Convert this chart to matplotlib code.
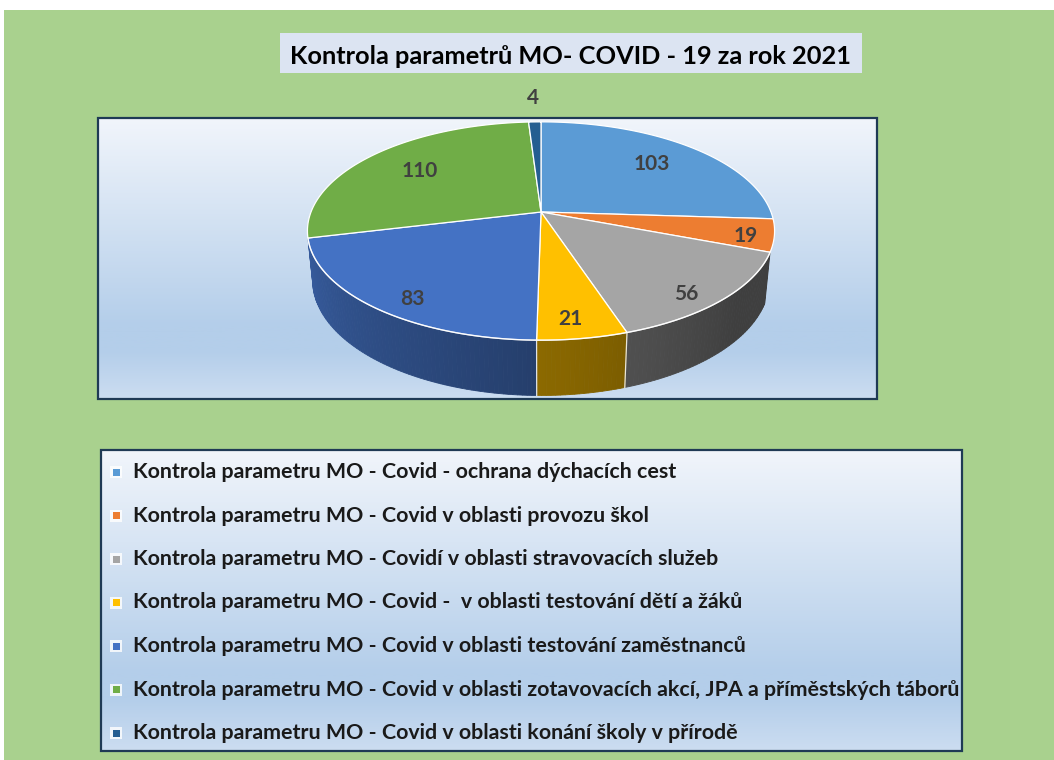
import numpy as np
import matplotlib.pyplot as plt
from matplotlib.patches import Polygon, Rectangle
from matplotlib.colors import LinearSegmentedColormap, to_rgb

# Data
title = "Kontrola parametrů MO- COVID - 19 za rok 2021"
categories = [
    "Kontrola parametru MO - Covid - ochrana dýchacích cest",
    "Kontrola parametru MO - Covid v oblasti provozu škol",
    "Kontrola parametru MO - Covidí v oblasti stravovacích služeb",
    "Kontrola parametru MO - Covid -  v oblasti testování dětí a žáků",
    "Kontrola parametru MO - Covid v oblasti testování zaměstnanců",
    "Kontrola parametru MO - Covid v oblasti zotavovacích akcí, JPA a příměstských táborů",
    "Kontrola parametru MO - Covid v oblasti konání školy v přírodě",
]
values = [103, 19, 56, 21, 83, 110, 4]
colors = ["#5B9BD5", "#ED7D31", "#A5A5A5", "#FFC000", "#4472C4", "#70AD47", "#255E91"]

# how far out along the radius each value label sits
label_frac = [0.72, 0.88, 0.82, 0.75, 0.8, 0.7, 1.32]

FONT = ["Lato", "DejaVu Sans"]

fig = plt.figure(figsize=(10.54, 7.6), dpi=100)
fig.patch.set_facecolor("white")
ax = fig.add_axes([0, 0, 1, 1])
ax.set_xlim(0, 1054)
ax.set_ylim(760, 0)
ax.axis("off")
renderer = fig.canvas.get_renderer()


def fit_size(text, width, **kw):
    t = ax.text(0, 0, text, fontsize=10, **kw)
    w = t.get_window_extent(renderer).width
    t.remove()
    return 10 * width / w


# green background
ax.add_patch(Rectangle((4, 10), 1050, 750, facecolor="#A9D18E", edgecolor="none", zorder=0))

# title box
ax.add_patch(Rectangle((280, 33), 582, 40, facecolor="#DCE4F2", edgecolor="none", zorder=1))
ax.text(571, 56, title, ha="center", va="center", color="black", family=FONT,
        fontweight="bold", fontsize=fit_size(title, 562, family=FONT, fontweight="bold"), zorder=2)

# gradient used by plot area and legend
grad_cmap = LinearSegmentedColormap.from_list(
    "excel", [(0, "#F1F5FB"), (0.74, "#B4CEEA"), (0.83, "#B4CEEA"), (1, "#CCDDF1")])
grad = np.linspace(0, 1, 256).reshape(-1, 1)


def gradient_box(x0, y0, x1, y1):
    ax.imshow(grad, extent=(x0, x1, y1, y0), cmap=grad_cmap, aspect="auto", zorder=1)
    ax.add_patch(Rectangle((x0, y0), x1 - x0, y1 - y0, facecolor="none",
                           edgecolor="#1F3A55", lw=1.6, zorder=8))


gradient_box(98, 118, 877, 399)
gradient_box(101, 450, 962, 751)

# 3D pie with a simple perspective projection
cx, cy = 541, 212
R, h = 230, 56
phi = np.radians(27.4)
s, c = np.sin(phi), np.cos(phi)
D = 1172.0
k = R * c / D
sil = np.degrees(np.arcsin(k))  # silhouette of the side wall


def proj(theta, frac=1.0, z=0.0):
    t = np.radians(theta)
    X = R * frac * np.cos(t)
    Y = R * frac * np.sin(t)
    up = Y * s + z * c
    depth = Y * c - z * s
    sc = D / (D + depth)
    return cx + X * sc, cy - up * sc


total = sum(values)
bounds = 90 - 360 * np.cumsum([0] + values) / total


def shade(theta):
    return 0.38 + 0.47 * np.clip((-theta - 40) / 140, 0, 1)


# side walls (visible front part only, tiny slivers at the edges skipped)
side_lo, side_hi = 0, -180
for i, col in enumerate(colors):
    hi, lo = bounds[i], bounds[i + 1]
    a, b = max(lo, -180 + sil), min(hi, -sil)
    if b - a < 12:
        continue
    a, b = max(lo, -180), min(hi, 0)
    side_lo, side_hi = min(side_lo, a), max(side_hi, b)
    th = np.linspace(a, b, max(int(b - a), 2) + 1)
    base = np.array(to_rgb(col))
    for t0, t1 in zip(th[:-1], th[1:]):
        pts = [proj(t0), proj(t1), proj(t1, z=-h), proj(t0, z=-h)]
        fc = base * shade((t0 + t1) / 2)
        ax.add_patch(Polygon(pts, closed=True, facecolor=fc, edgecolor=fc, lw=0.6, zorder=3))

# white separators on the side
for b in bounds:
    bb = (b + 180) % 360 - 180
    if side_lo < bb < side_hi:
        x0, y0 = proj(bb)
        x1, y1 = proj(bb, z=-h)
        ax.plot([x0, x1], [y0, y1], color="white", lw=0.9, alpha=0.85, zorder=4)

# top face
for i, col in enumerate(colors):
    th = np.linspace(bounds[i], bounds[i + 1], 80)
    rim = [proj(t) for t in th]
    ax.add_patch(Polygon([(cx, cy)] + rim, closed=True, facecolor=col,
                         edgecolor="white", lw=0.9, zorder=5))

# highlight on the front rim
th = np.linspace(side_lo, side_hi, 200)
rx, ry = zip(*[proj(t) for t in th])
ax.plot(rx, ry, color="white", lw=1.0, alpha=0.7, zorder=6)

# value labels
for i, v in enumerate(values):
    mid = (bounds[i] + bounds[i + 1]) / 2
    x, y = proj(mid, frac=label_frac[i])
    sn = np.sin(np.radians(mid))
    if sn < 0:
        y += 0.3 * h * (-sn)
    ax.text(x, y, str(v), ha="center", va="center", color="#404040",
            fontsize=15, fontweight="bold", family=FONT, zorder=7)

# legend
leg_size = fit_size(categories[5], 826, family=FONT, fontweight="bold")
for i, (lab, col) in enumerate(zip(categories, colors)):
    y = 472 + i * 43.5
    ax.add_patch(Rectangle((110, y - 6), 12, 12, facecolor="white", edgecolor="none", alpha=0.8, zorder=6))
    ax.add_patch(Rectangle((112.5, y - 3.5), 7, 7, facecolor=col, edgecolor="none", zorder=7))
    ax.text(133, y, lab, ha="left", va="center", color="#1A1A1A", family=FONT,
            fontsize=leg_size, fontweight="bold", zorder=7)

fig.savefig("out.png", dpi=100)
